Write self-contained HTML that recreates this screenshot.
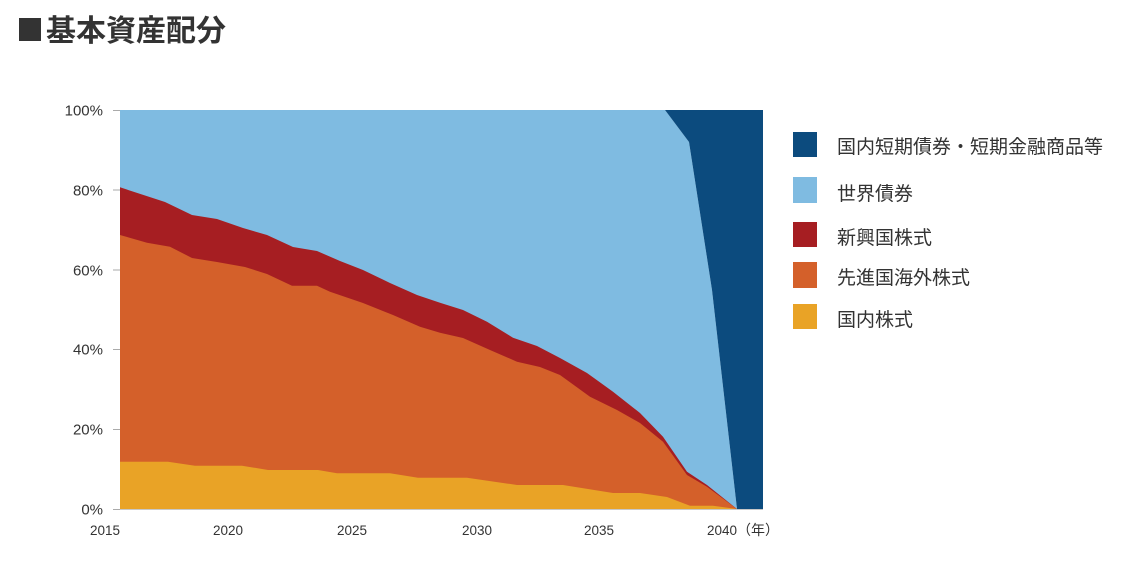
<!DOCTYPE html>
<html><head><meta charset="utf-8"><style>
html,body{margin:0;padding:0;background:#fff;width:1146px;height:561px;overflow:hidden}
svg{display:block}
</style></head><body>
<svg width="1146" height="561" viewBox="0 0 1146 561" xmlns="http://www.w3.org/2000/svg">
<rect width="1146" height="561" fill="#fff"/>
<!-- title -->
<rect x="19" y="18" width="22" height="23" fill="#333"/>
<text x="46" y="41" font-family="'Liberation Sans','Noto Sans CJK JP',sans-serif" font-weight="bold" font-size="30" fill="#333">基本資産配分</text>

<!-- areas -->
<polygon fill="#7fbbe1" points="120,110 665,110 689,142 712,290 737,509 120,509"/>
<polygon fill="#0c4b7e" points="665,110 763,110 763,509 737,509 712,290 689,142"/>
<polygon fill="#a61e22" points="120,187.3 165,202 192,215 217,219 243,228 267,235 293,247 317,251 340,261 363,270 390,283 417,295 440,302.7 463,310 487,321.7 513,337.7 537,346 560,358 587,373 613,391.7 640,413 663,436.7 687,471.7 707,485 737,509 120,509"/>
<polygon fill="#d4602a" points="120,235 147,242.7 170,246.7 192,258 217,262 245,267 267,274 292,285.7 317,285.7 330,291.7 363,303 393,315 420,326.7 440,332.7 463,338 490,350 517,361.7 540,367 560,375 590,396.7 617,410 640,423 663,441.7 687,475 707,486.7 737,509 120,509"/>
<polygon fill="#e9a326" points="120,461.7 168,461.7 195,465.7 242,465.7 268,470 318,470 337,473.3 390,473.3 418,477.7 467,477.7 517,485 563,485 613,493 640,493 667,497 690,505.7 713,505.7 737,509 120,509"/>

<!-- axes -->
<line x1="113" y1="509.5" x2="763" y2="509.5" stroke="#c8c8c8" stroke-width="1"/>
<g stroke="#aaa" stroke-width="1">
<line x1="113" y1="110.5" x2="120" y2="110.5"/>
<line x1="113" y1="190" x2="120" y2="190"/>
<line x1="113" y1="270" x2="120" y2="270"/>
<line x1="113" y1="349.5" x2="120" y2="349.5"/>
<line x1="113" y1="429.5" x2="120" y2="429.5"/>
<line x1="113" y1="509.5" x2="120" y2="509.5"/>
</g>
<g font-family="'Liberation Sans',sans-serif" font-size="15" fill="#333" text-anchor="end">
<text x="103" y="115.5">100%</text>
<text x="103" y="195.5">80%</text>
<text x="103" y="275.5">60%</text>
<text x="103" y="354.5">40%</text>
<text x="103" y="434.5">20%</text>
<text x="103" y="514.5">0%</text>
</g>
<g font-family="'Liberation Sans',sans-serif" font-size="13.5" fill="#333" text-anchor="middle">
<text x="105" y="535">2015</text>
<text x="228" y="535">2020</text>
<text x="352" y="535">2025</text>
<text x="477" y="535">2030</text>
<text x="599" y="535">2035</text>
<text x="722" y="535">2040</text>
</g>
<text x="737" y="535" font-family="'Liberation Sans','Noto Sans CJK JP',sans-serif" font-size="14" fill="#333">（年）</text>

<!-- legend -->
<rect x="793" y="132" width="24" height="25" fill="#0c4b7e"/>
<rect x="793" y="177" width="24" height="26" fill="#7fbbe1"/>
<rect x="793" y="222" width="24" height="25" fill="#a61e22"/>
<rect x="793" y="262" width="24" height="26" fill="#d4602a"/>
<rect x="793" y="304" width="24" height="25" fill="#e9a326"/>
<g font-family="'Liberation Sans','Noto Sans CJK JP',sans-serif" font-size="19" fill="#333">
<text x="837" y="153">国内短期債券・短期金融商品等</text>
<text x="837" y="200">世界債券</text>
<text x="837" y="244">新興国株式</text>
<text x="837" y="284">先進国海外株式</text>
<text x="837" y="326">国内株式</text>
</g>
</svg>
</body></html>
